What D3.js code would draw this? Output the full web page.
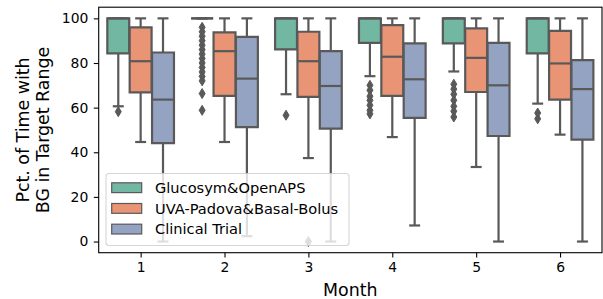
<!DOCTYPE html>
<html>
<head>
<meta charset="utf-8">
<script src="https://cdn.jsdelivr.net/npm/d3@7"></script>
<style>
  body { margin: 0; background: #fff; }
  text { font-family: "DejaVu Sans", sans-serif; }
</style>
</head>
<body>
<div id="chart"></div>
<script>
// months on the x axis
const months = [1, 2, 3, 4, 5, 6];
const seriesNames = ["Glucosym&OpenAPS", "UVA-Padova&Basal-Bolus", "Clinical Trial"];
const yTicks = [0, 20, 40, 60, 80, 100];

// box stats per month: [lower whisker, q1, median, q3, upper whisker]
const glucosymStats = [
  [60.6, 84.3, 100, 100, 100],
  [100, 100, 100, 100, 100],
  [66.0, 86.1, 100, 100, 100],
  [74.1, 89.0, 100, 100, 100],
  [76.2, 88.8, 100, 100, 100],
  [61.8, 84.3, 100, 100, 100]
];
const uvaStats = [
  [44.6, 66.8, 80.8, 96.0, 100],
  [44.6, 65.3, 85.3, 93.7, 100],
  [37.4, 64.8, 80.8, 94.0, 100],
  [46.8, 65.3, 82.8, 97.0, 100],
  [33.4, 67.0, 82.3, 95.5, 100],
  [47.9, 63.6, 79.8, 94.4, 100]
];
const clinicalStats = [
  [0, 44.1, 63.6, 84.7, 100],
  [2.4, 51.3, 73.0, 91.7, 100],
  [0, 50.6, 69.7, 85.3, 100],
  [7.2, 55.4, 72.7, 88.8, 100],
  [0, 47.3, 70.0, 89.0, 100],
  [0, 45.7, 68.3, 81.3, 100]
];

// outliers per month
const glucosymOutliers = [
  [58.2],
  [96, 94, 92, 90, 88, 86, 84, 82, 80, 78, 76, 74, 72, 66.3, 58.8],
  [56.6],
  [70.0, 67.8, 65.1, 63.3, 61.1, 58.8, 57.2],
  [70.5, 68.3, 66.0, 63.3, 60.6, 58.4, 55.8],
  [57.6, 55.0]
];
const uvaOutliers = [[], [], [0], [], [], []];
const clinicalOutliers = [[], [], [], [], [], []];

const statsBySeries = [glucosymStats, uvaStats, clinicalStats];
const outliersBySeries = [glucosymOutliers, uvaOutliers, clinicalOutliers];
const colors = ["#71b7a1", "#e99575", "#95a3c3"];
const gray = "#595959";

const width = 603, height = 299;
const svg = d3.select("#chart").append("svg")
    .attr("width", width)
    .attr("height", height);

const x = d3.scaleLinear().domain([0.5, 6.5]).range([98.7, 602]);
const y = d3.scaleLinear().domain([-5, 105]).range([252.7, 7.2]);

const hueWidth = 0.8 / 3;
const boxHalf = hueWidth * 0.98 / 2;
const capHalf = boxHalf / 2;

// draw boxes
statsBySeries.forEach(function (stats, k) {
    const g = svg.append("g");
    const off = (k - 1) * hueWidth;
    stats.forEach(function (s, i) {
        const cx = months[i] + off;
        const x0 = x(cx - boxHalf), x1 = x(cx + boxHalf);
        const c0 = x(cx - capHalf), c1 = x(cx + capHalf);
        const xc = x(cx);
        // whiskers
        g.append("line").attr("x1", xc).attr("x2", xc).attr("y1", y(s[1])).attr("y2", y(s[0]))
            .attr("stroke", gray).attr("stroke-width", 2.2);
        g.append("line").attr("x1", xc).attr("x2", xc).attr("y1", y(s[3])).attr("y2", y(s[4]))
            .attr("stroke", gray).attr("stroke-width", 2.2);
        // caps
        [s[0], s[4]].forEach(function (v) {
            g.append("line").attr("x1", c0).attr("x2", c1).attr("y1", y(v)).attr("y2", y(v))
                .attr("stroke", gray).attr("stroke-width", 2.2);
        });
        // box
        g.append("path")
            .attr("d", "M" + x0 + "," + y(s[3]) + "H" + x1 + "V" + y(s[1]) + "H" + x0 + "Z")
            .attr("fill", colors[k]).attr("stroke", gray).attr("stroke-width", 2.2)
            .attr("stroke-linejoin", "miter");
        // median
        g.append("line").attr("x1", x0).attr("x2", x1).attr("y1", y(s[2])).attr("y2", y(s[2]))
            .attr("stroke", gray).attr("stroke-width", 2.2);
        // outliers
        outliersBySeries[k][i].forEach(function (v) {
            g.append("path")
                .attr("transform", "translate(" + xc + "," + y(v) + ")")
                .attr("d", "M0,-5L3,0L0,5L-3,0Z")
                .attr("fill", gray).attr("stroke", gray).attr("stroke-width", 1);
        });
    });
});

// axes
const xAxis = svg.append("g")
    .attr("transform", "translate(0,252.7)")
    .call(d3.axisBottom(x).tickValues(months).tickFormat(d3.format("d"))
        .tickSize(4.9).tickPadding(4.5).tickSizeOuter(0));
const yAxis = svg.append("g")
    .attr("transform", "translate(98.7,0)")
    .call(d3.axisLeft(y).tickValues(yTicks).tickFormat(d3.format("d"))
        .tickSize(4.9).tickPadding(5.5).tickSizeOuter(0));
[xAxis, yAxis].forEach(function (a) {
    a.select(".domain").remove();
    a.selectAll(".tick line").attr("stroke", "#000").attr("stroke-width", 1.1);
    a.selectAll(".tick text").attr("fill", "#000").style("font-size", "13.9px")
        .style("font-family", "DejaVu Sans, sans-serif");
});

// frame
svg.append("rect")
    .attr("x", 98.7).attr("y", 7.2)
    .attr("width", 602 - 98.7).attr("height", 252.7 - 7.2)
    .attr("fill", "none").attr("stroke", "#000").attr("stroke-width", 1.1);

// axis labels
svg.append("text")
    .attr("x", (98.7 + 602) / 2).attr("y", 295.5)
    .attr("text-anchor", "middle")
    .style("font-size", "17.4px")
    .text("Month");

const yLab = svg.append("text")
    .attr("transform", "translate(23,130) rotate(-90)")
    .attr("text-anchor", "middle")
    .style("font-size", "17.4px");
yLab.append("tspan").attr("x", 0).attr("dy", "0.35em").text("Pct. of Time with");
yLab.append("tspan").attr("x", 0).attr("dy", 19.5).text("BG in Target Range");

// legend
const legend = svg.append("g");
legend.append("rect")
    .attr("x", 106).attr("y", 173.5).attr("width", 243).attr("height", 72).attr("rx", 3)
    .attr("fill", "#fff").attr("fill-opacity", 0.8)
    .attr("stroke", "#cccccc").attr("stroke-opacity", 0.8).attr("stroke-width", 1.1);
seriesNames.forEach(function (name, k) {
    const cy = 187.7 + k * 20.7;
    legend.append("rect")
        .attr("x", 111.7).attr("y", cy - 4.9).attr("width", 30).attr("height", 9.8)
        .attr("fill", colors[k]).attr("stroke", gray).attr("stroke-width", 1.2);
    legend.append("text")
        .attr("x", 155).attr("y", cy).attr("dy", "0.35em")
        .style("font-size", "14.6px")
        .text(name);
});
</script>
</body>
</html>
